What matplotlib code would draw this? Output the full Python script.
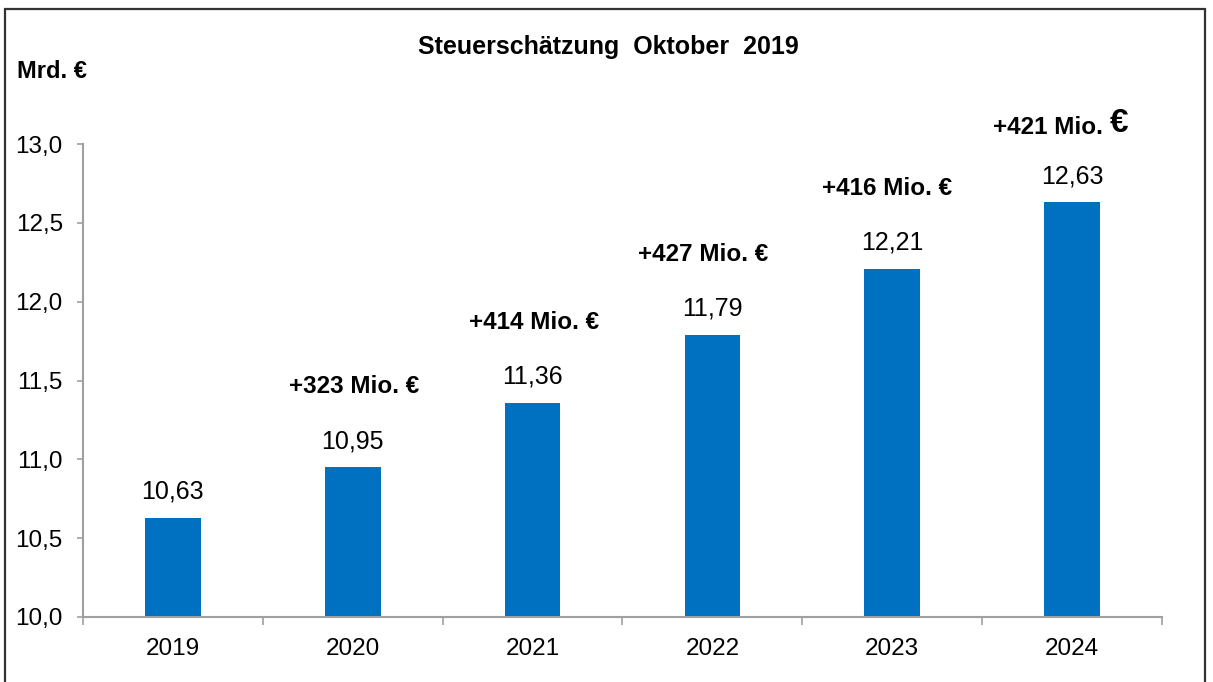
import matplotlib
matplotlib.use("Agg")
import matplotlib.pyplot as plt
from matplotlib.patches import Rectangle

years = ["2019", "2020", "2021", "2022", "2023", "2024"]
values = [10.63, 10.95, 11.36, 11.79, 12.21, 12.63]
value_labels = ["10,63", "10,95", "11,36", "11,79", "12,21", "12,63"]
increase_labels = ["", "+323 Mio. €", "+414 Mio. €", "+427 Mio. €", "+416 Mio. €", "+421 Mio."]
yticks = [10.0, 10.5, 11.0, 11.5, 12.0, 12.5, 13.0]
ytick_labels = ["10,0", "10,5", "11,0", "11,5", "12,0", "12,5", "13,0"]

plt.rcParams['font.family'] = ['Liberation Sans', 'DejaVu Sans']

W, H = 1213, 682
fig = plt.figure(figsize=(W / 100, H / 100), dpi=100)
ax = fig.add_axes([83 / W, 65 / H, (1162 - 83) / W, (617 - 144) / H])

x = list(range(len(years)))
ax.bar(x, values, width=0.31, color="#0070C0", bottom=0)
ax.set_ylim(10.0, 13.0)
ax.set_xlim(-0.5, len(years) - 0.5)

axis_col = "#A0A0A0"
for s in ["top", "right"]:
    ax.spines[s].set_visible(False)
for s in ["left", "bottom"]:
    ax.spines[s].set_color(axis_col)
    ax.spines[s].set_linewidth(1.5)

ax.set_yticks(yticks)
ax.set_yticklabels(ytick_labels, fontsize=17.5)
ax.tick_params(axis="y", length=4.5, width=1.2, color=axis_col, pad=10, direction="out")

# category ticks between bars
ax.set_xticks([i - 0.5 for i in range(len(years) + 1)])
ax.set_xticklabels([""] * (len(years) + 1))
ax.tick_params(axis="x", which="major", length=6, width=1.2, color=axis_col, direction="out")
ax.set_xticks(x, minor=True)
ax.set_xticklabels(years, minor=True, fontsize=17.5)
ax.tick_params(axis="x", which="minor", length=0, pad=15)

for xi, v, lab in zip(x, values, value_labels):
    ax.annotate(lab, (xi, v), xytext=(0, 10), textcoords="offset points",
                ha="center", va="bottom", fontsize=18)

inc_offsets = [0, 1, 1, -7, -4, 0]
for xi, v, lab, dx in zip(x, values, increase_labels, inc_offsets):
    if not lab:
        continue
    if xi == len(years) - 1:
        ax.annotate(lab, (xi, v), xytext=(22, 54), textcoords="offset points",
                    ha="right", va="center", fontsize=17.5, fontweight="bold")
        ax.annotate("€", (xi, v), xytext=(27, 57), textcoords="offset points",
                    ha="left", va="center", fontsize=24, fontweight="bold")
    else:
        ax.annotate(lab, (xi, v), xytext=(dx, 58), textcoords="offset points",
                    ha="center", va="center", fontsize=17.5, fontweight="bold")

fig.text(608 / W, 1 - 47 / H, "Steuerschätzung  Oktober  2019", ha="center", va="center",
         fontsize=18, fontweight="bold")
fig.text(17 / W, 1 - 72 / H, "Mrd. €", ha="left", va="center",
         fontsize=17, fontweight="bold")

fig.patches.append(Rectangle((5 / W, -0.05), (1205 - 5) / W, 1.05 - 9 / H,
                             transform=fig.transFigure, fill=False,
                             edgecolor="#333333", linewidth=1.6))

fig.savefig("out.png", dpi=100)
